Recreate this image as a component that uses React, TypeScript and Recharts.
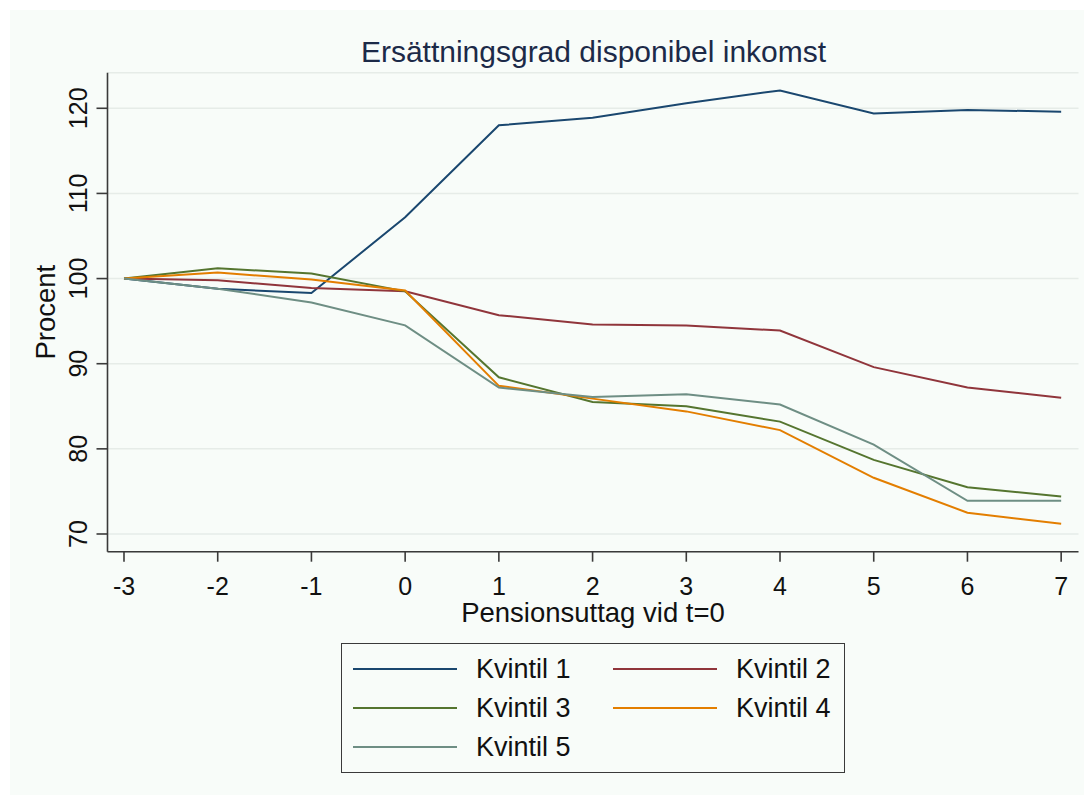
import { LineChart, Line, XAxis, YAxis, CartesianGrid, Legend } from "recharts";

// Years relative to pension withdrawal (t=0)
const periods = [-3, -2, -1, 0, 1, 2, 3, 4, 5, 6, 7];

const kvintil1 = [100, 98.8, 98.3, 107.2, 118.0, 118.9, 120.6, 122.1, 119.4, 119.8, 119.6];
const kvintil2 = [100, 99.8, 98.9, 98.5, 95.7, 94.6, 94.5, 93.9, 89.6, 87.2, 86.0];
const kvintil3 = [100, 101.2, 100.6, 98.5, 88.4, 85.5, 85.0, 83.2, 78.7, 75.5, 74.4];
const kvintil4 = [100, 100.7, 99.9, 98.6, 87.4, 85.9, 84.4, 82.2, 76.6, 72.5, 71.2];
const kvintil5 = [100, 98.8, 97.2, 94.5, 87.2, 86.1, 86.4, 85.2, 80.5, 73.9, 73.9];

const yTicks = [70, 80, 90, 100, 110, 120];

// Stata s2color palette
const SERIES = [
  { key: "k1", name: "Kvintil 1", color: "#1a476f", values: kvintil1 },
  { key: "k2", name: "Kvintil 2", color: "#90353b", values: kvintil2 },
  { key: "k3", name: "Kvintil 3", color: "#55752f", values: kvintil3 },
  { key: "k4", name: "Kvintil 4", color: "#e37e00", values: kvintil4 },
  { key: "k5", name: "Kvintil 5", color: "#6e8e84", values: kvintil5 },
];

const rows = periods.map((t, i) => {
  const row: Record<string, number> = { t };
  SERIES.forEach((s) => (row[s.key] = s.values[i]));
  return row;
});

const FONT = "'Liberation Sans', Arial, sans-serif";
const AXIS = "#3a3a3a";
const BG = "#f8fcf9";

function YTick({ x, y, payload }: any) {
  return (
    <text
      transform={`translate(${x - 8},${y}) rotate(-90)`}
      textAnchor="middle"
      fontSize={25}
      fontFamily={FONT}
      fill="#111"
    >
      {payload.value}
    </text>
  );
}

function XTick({ x, payload }: any) {
  return (
    <text x={x} y={595} textAnchor="middle" fontSize={25} fontFamily={FONT} fill="#111">
      {payload.value}
    </text>
  );
}

function LegendBox() {
  return (
    <div
      style={{
        width: 502,
        height: 128,
        border: `1.5px solid ${AXIS}`,
        background: BG,
        position: "relative",
        fontFamily: FONT,
        fontSize: 27,
        color: "#111",
      }}
    >
      {SERIES.map((s, i) => {
        const col = i % 2;
        const row = Math.floor(i / 2);
        return (
          <div
            key={s.key}
            style={{
              position: "absolute",
              left: 11 + col * 260,
              top: 25 + row * 39 - 17,
              height: 34,
              display: "flex",
              alignItems: "center",
            }}
          >
            <span style={{ display: "inline-block", width: 104, height: 2.5, background: s.color }} />
            <span style={{ marginLeft: 19, lineHeight: "34px" }}>{s.name}</span>
          </div>
        );
      })}
    </div>
  );
}

export default function App() {
  return (
    <div style={{ position: "absolute", left: 0, top: 0, width: 1084, height: 795, background: "#fff" }}>
      <div style={{ position: "absolute", left: 10, top: 10, width: 1074, height: 785, background: BG }} />
      <div
        style={{
          position: "absolute",
          left: 0,
          top: 36,
          width: 1187,
          textAlign: "center",
          fontFamily: FONT,
          fontSize: 30,
          lineHeight: "32px",
          color: "#1c2a48",
        }}
      >
        Ersättningsgrad disponibel inkomst
      </div>
      <div style={{ position: "absolute", left: 0, top: 0 }}>
        <LineChart
          width={1084}
          height={795}
          data={rows}
          margin={{ top: 72.7, right: 5.5, bottom: 183.3, left: 7.5 }}
        >
          <CartesianGrid horizontal vertical={false} stroke="#e6ece8" strokeWidth={1.5} />
          <XAxis
            dataKey="t"
            type="number"
            domain={[-3.176, 7.185]}
            ticks={periods}
            allowDataOverflow
            height={60}
            tickSize={10}
            axisLine={{ stroke: AXIS, strokeWidth: 1.6 }}
            tickLine={{ stroke: AXIS, strokeWidth: 1.6 }}
            tick={<XTick />}
            label={{
              value: "Pensionsuttag vid t=0",
              position: "bottom",
              offset: -9,
              fill: "#111",
              fontSize: 27.5,
              fontFamily: FONT,
            }}
          />
          <YAxis
            type="number"
            domain={[67.92, 124.18]}
            ticks={yTicks}
            allowDataOverflow
            width={100}
            tickSize={11}
            axisLine={{ stroke: AXIS, strokeWidth: 1.6 }}
            tickLine={{ stroke: AXIS, strokeWidth: 1.6 }}
            tick={<YTick />}
            label={{
              content: ({ viewBox }: any) => (
                <text
                  transform={`translate(55,${viewBox.y + viewBox.height / 2}) rotate(-90)`}
                  textAnchor="middle"
                  fontSize={27.5}
                  fontFamily={FONT}
                  fill="#111"
                >
                  Procent
                </text>
              ),
            }}
          />
          {SERIES.map((s) => (
            <Line
              key={s.key}
              type="linear"
              dataKey={s.key}
              name={s.name}
              stroke={s.color}
              strokeWidth={2}
              dot={false}
              isAnimationActive={false}
            />
          ))}
          <Legend
            layout="horizontal"
            verticalAlign="middle"
            align="center"
            wrapperStyle={{ left: 341, top: 643, width: 504, height: 130 }}
            content={<LegendBox />}
          />
        </LineChart>
      </div>
    </div>
  );
}
